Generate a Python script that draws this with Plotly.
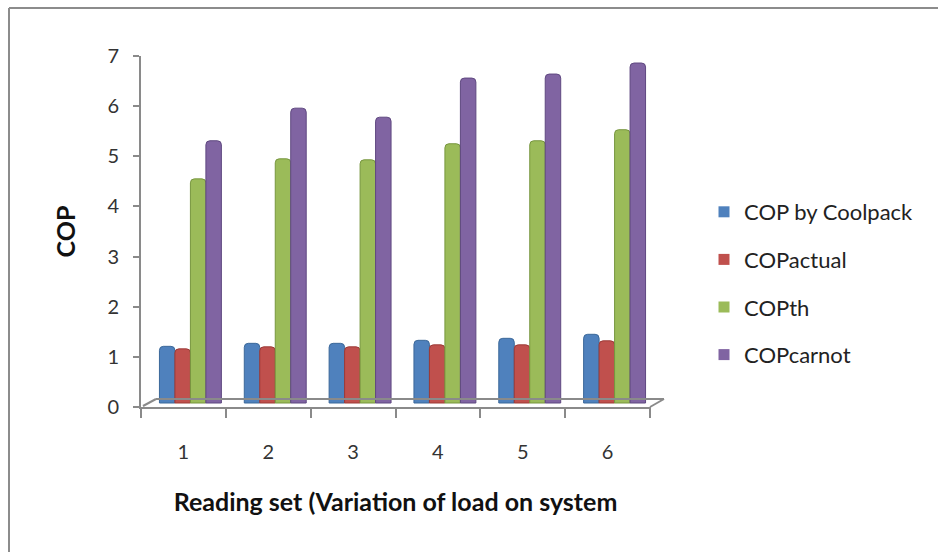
import plotly.graph_objects as go

# Reading sets (variation of load on the system)
readings = ["1", "2", "3", "4", "5", "6"]

# Coefficient of performance for each reading set
cop_coolpack = [1.13, 1.19, 1.19, 1.25, 1.29, 1.37]
cop_actual = [1.08, 1.12, 1.12, 1.16, 1.16, 1.24]
cop_th = [4.47, 4.87, 4.85, 5.17, 5.23, 5.45]
cop_carnot = [5.23, 5.88, 5.70, 6.48, 6.56, 6.78]

series = [
    ("COP by Coolpack", cop_coolpack, "#4F81BD", "#3B6899"),
    ("COPactual", cop_actual, "#C0504D", "#9C3A37"),
    ("COPth", cop_th, "#9BBB59", "#77963F"),
    ("COPcarnot", cop_carnot, "#8064A2", "#5F4880"),
]

FONT = "Lato"
AXIS_GREY = "#8A8A8A"

W, H = 938, 552
L, R, T, B = 141, 288, 56, 145
PW, PH = W - L - R, H - T - B


def px(x):
    return (x - L) / PW


def py(y):
    return (H - B - y) / PH


fig = go.Figure()

# anchor trace so the visible category / value axes are drawn
fig.add_trace(go.Scatter(x=readings, y=[0] * len(readings), mode="none",
                         showlegend=False, hoverinfo="skip"))

for name, vals, col, edge in series:
    fig.add_trace(go.Bar(
        x=readings, y=vals, name=name,
        xaxis="x2", yaxis="y2",
        marker=dict(color=col, line=dict(color=edge, width=1), cornerradius=4),
        legendgroup=name, showlegend=False,
    ))

# square legend keys
for name, vals, col, edge in series:
    fig.add_trace(go.Scatter(
        x=[None], y=[None], name=name, mode="markers",
        marker=dict(symbol="square", size=11, color=col),
        legendgroup=name, showlegend=True,
    ))

# bars stand on the back of the floor: slightly right of and above the front edge
dx = 7 / PW * 6
dy = 4 / PH * 7

fig.update_layout(
    width=W, height=H,
    margin=dict(l=L, r=R, t=T, b=B),
    paper_bgcolor="white", plot_bgcolor="white",
    barmode="group", bargap=0.27, bargroupgap=0,
    font=dict(family=FONT, color="#222222"),
    xaxis=dict(
        type="category", categoryorder="array", categoryarray=readings,
        range=[-0.5, 5.5],
        showline=True, linecolor=AXIS_GREY, linewidth=2,
        ticks="outside", tickson="boundaries", ticklen=9, tickcolor=AXIS_GREY, tickwidth=2,
        ticklabelstandoff=26,
        tickfont=dict(size=20, family=FONT, color="#333333"),
        showgrid=False, zeroline=False,
        title=dict(text="<b>Reading set (Variation of load on system</b>",
                   font=dict(size=25, family=FONT, color="#111111"), standoff=31),
        fixedrange=True,
    ),
    yaxis=dict(
        range=[0, 7], dtick=1,
        showline=True, linecolor=AXIS_GREY, linewidth=2,
        ticks="outside", ticklen=6, tickcolor=AXIS_GREY, tickwidth=2,
        ticklabelstandoff=10,
        tickfont=dict(size=20, family=FONT, color="#333333"),
        showgrid=False, zeroline=False,
        title=dict(text="<b>COP</b>", font=dict(size=25, family=FONT, color="#111111"), standoff=25),
        fixedrange=True,
    ),
    xaxis2=dict(
        type="category", categoryorder="array", categoryarray=readings,
        overlaying="x", range=[-0.5 - dx, 5.5 - dx], visible=False, fixedrange=True,
    ),
    yaxis2=dict(
        overlaying="y", range=[-dy, 7 - dy], visible=False, fixedrange=True,
    ),
    legend=dict(
        x=px(704), y=py(191), xanchor="left", yanchor="top",
        font=dict(size=22, family=FONT, color="#222222"),
        tracegroupgap=16, itemwidth=30, bgcolor="rgba(0,0,0,0)",
    ),
    showlegend=True,
)

# 3-D style floor slab and chart-area border
floor = [
    ((143, 406), (156, 399)),
    ((156, 399), (664, 399)),
    ((664, 399), (650, 407)),
    ((650, 407), (650, 417)),
]
shapes = []
for (x0, y0), (x1, y1) in floor:
    shapes.append(dict(type="line", xref="paper", yref="paper",
                       x0=px(x0), y0=py(y0), x1=px(x1), y1=py(y1),
                       line=dict(color=AXIS_GREY, width=2), layer="above"))
for (x0, y0), (x1, y1) in [((9, 8), (9, 552)), ((9, 8), (938, 8))]:
    shapes.append(dict(type="line", xref="paper", yref="paper",
                       x0=px(x0), y0=py(y0), x1=px(x1), y1=py(y1),
                       line=dict(color="#8C8C8C", width=2), layer="above"))
fig.update_layout(shapes=shapes)

fig.write_html("out.html")
